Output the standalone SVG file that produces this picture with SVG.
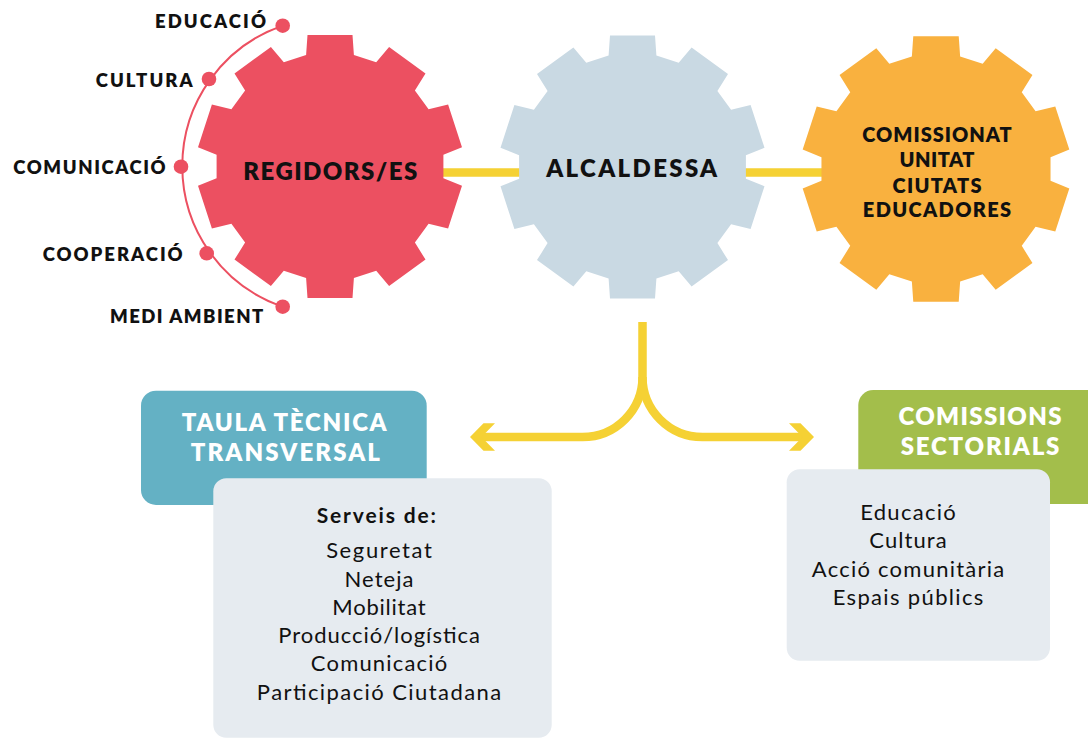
<svg xmlns="http://www.w3.org/2000/svg" width="1088" height="738" viewBox="0 0 1088 738">
<style>
text{font-family:Lato,"Liberation Sans",sans-serif;fill:#111}
.lbl{font-weight:800;font-size:18.5px;text-anchor:end}
.gt{font-weight:800;font-size:24px;text-anchor:middle}
.ot{font-weight:800;font-size:20px;text-anchor:middle}
.ht{font-weight:800;font-size:24px;fill:#fff;text-anchor:middle}
.bt{font-weight:400;font-size:22px;text-anchor:middle}
.bb{font-weight:700;font-size:21px;text-anchor:middle}
.yl{fill:none;stroke:#F5D134;stroke-width:8.5}
.dot{fill:#EC5061}
</style>
<defs>
<path id="gear" d="M-23.9,-111.5 L-22.5,-131.5 L22.5,-131.5 L23.9,-111.5 L46.2,-104.2 L59.1,-119.6 L95.5,-93.1 L84.9,-76.1 L98.6,-57.2 L118.1,-62 L132,-19.3 L113.4,-11.7 L113.4,11.7 L132,19.3 L118.1,62 L98.6,57.2 L84.9,76.1 L95.5,93.1 L59.1,119.6 L46.2,104.2 L23.9,111.5 L22.5,131.5 L-22.5,131.5 L-23.9,111.5 L-46.2,104.2 L-59.1,119.6 L-95.5,93.1 L-84.9,76.1 L-98.6,57.2 L-118.1,62 L-132,19.3 L-113.4,11.7 L-113.4,-11.7 L-132,-19.3 L-118.1,-62 L-98.6,-57.2 L-84.9,-76.1 L-95.5,-93.1 L-59.1,-119.6 L-46.2,-104.2 Z"/>
</defs>
<rect width="1088" height="738" fill="#fff"/>
<g id="connectors">
<line class="yl" x1="440" y1="172.5" x2="830" y2="172.5"/>
<path class="yl" d="M642.5,322 V377 A60,60 0 0 1 582.5,437 H480"/>
<path class="yl" d="M642.5,377 A60,60 0 0 0 702.5,437 H805"/>
<polygon fill="#F5D134" points="470,437 483.5,423.3 495,423.3 481.5,437 495,450.7 483.5,450.7"/>
<polygon fill="#F5D134" points="814,437 800.5,423.3 789,423.3 802.5,437 789,450.7 800.5,450.7"/>
<path d="M282.7,25.7 A148.5,148.5 0 0 0 282.7,306.7" fill="none" stroke="#EC5061" stroke-width="2"/>
</g>
<g id="regidors">
<use href="#gear" transform="translate(330,166.5)" fill="#EC5061"/>
<text class="gt" x="330.3" y="180" textLength="174" lengthAdjust="spacing">REGIDORS/ES</text>
</g>
<g id="alcaldessa">
<use href="#gear" transform="translate(632.5,167)" fill="#C9D9E3"/>
<text class="gt" x="631.7" y="177" textLength="171" lengthAdjust="spacing">ALCALDESSA</text>
</g>
<g id="comissionat">
<use href="#gear" transform="translate(936,169) scale(1.01)" fill="#F9B13F"/>
<text class="ot" x="937" y="141.7" textLength="149.4" lengthAdjust="spacing">COMISSIONAT</text>
<text class="ot" x="937" y="166.7" textLength="75" lengthAdjust="spacing">UNITAT</text>
<text class="ot" x="937" y="192.7" textLength="89" lengthAdjust="spacing">CIUTATS</text>
<text class="ot" x="937" y="217.3" textLength="148.3" lengthAdjust="spacing">EDUCADORES</text>
</g>
<g id="ambits">
<circle class="dot" cx="282.7" cy="25.7" r="7.3"/>
<circle class="dot" cx="209" cy="79" r="7.3"/>
<circle class="dot" cx="181" cy="166.7" r="7.3"/>
<circle class="dot" cx="206.7" cy="253.3" r="7.3"/>
<circle class="dot" cx="282.7" cy="306.7" r="7.3"/>
<text class="lbl" x="266" y="27.7" textLength="111" lengthAdjust="spacing">EDUCACIÓ</text>
<text class="lbl" x="192.7" y="87.3" textLength="97" lengthAdjust="spacing">CULTURA</text>
<text class="lbl" x="165.7" y="174" textLength="152.4" lengthAdjust="spacing">COMUNICACIÓ</text>
<text class="lbl" x="182.7" y="260.7" textLength="140" lengthAdjust="spacing">COOPERACIÓ</text>
<text class="lbl" x="263.3" y="322.7" textLength="153.3" lengthAdjust="spacing">MEDI AMBIENT</text>
</g>
<g id="taula">
<rect x="141" y="390.7" width="285.7" height="114.3" rx="15" fill="#64B1C4"/>
<text class="ht" x="284.2" y="430.7" textLength="205" lengthAdjust="spacing">TAULA TÈCNICA</text>
<text class="ht" x="285.3" y="461" textLength="189.3" lengthAdjust="spacing">TRANSVERSAL</text>
</g>
<g id="serveis">
<rect x="213.3" y="478.3" width="338.4" height="259.5" rx="13" fill="#E6EBF0"/>
<text class="bb" x="376.3" y="523.3" textLength="119.3" lengthAdjust="spacing">Serveis de:</text>
<text class="bt" x="379" y="558" textLength="105.7" lengthAdjust="spacing">Seguretat</text>
<text class="bt" x="379" y="586.5" textLength="69" lengthAdjust="spacing">Neteja</text>
<text class="bt" x="379" y="614.8" textLength="93.3" lengthAdjust="spacing">Mobilitat</text>
<text class="bt" x="379" y="643" textLength="201.7" lengthAdjust="spacing">Producció/logística</text>
<text class="bt" x="379" y="671.3" textLength="136.3" lengthAdjust="spacing">Comunicació</text>
<text class="bt" x="379" y="699.5" textLength="244.3" lengthAdjust="spacing">Participació Ciutadana</text>
</g>
<g id="comissions">
<rect x="858.3" y="390" width="250" height="114" rx="15" fill="#A3BE4B"/>
<text class="ht" x="980" y="425" textLength="163" lengthAdjust="spacing">COMISSIONS</text>
<text class="ht" x="980" y="455" textLength="158.7" lengthAdjust="spacing">SECTORIALS</text>
</g>
<g id="sectors">
<rect x="786.7" y="469.3" width="263.3" height="191.4" rx="13" fill="#E6EBF0"/>
<text class="bt" x="908" y="520" textLength="95.7" lengthAdjust="spacing">Educació</text>
<text class="bt" x="908" y="548.3" textLength="77.3" lengthAdjust="spacing">Cultura</text>
<text class="bt" x="908" y="576.7" textLength="192.3" lengthAdjust="spacing">Acció comunitària</text>
<text class="bt" x="908" y="605" textLength="150.7" lengthAdjust="spacing">Espais públics</text>
</g>
</svg>
